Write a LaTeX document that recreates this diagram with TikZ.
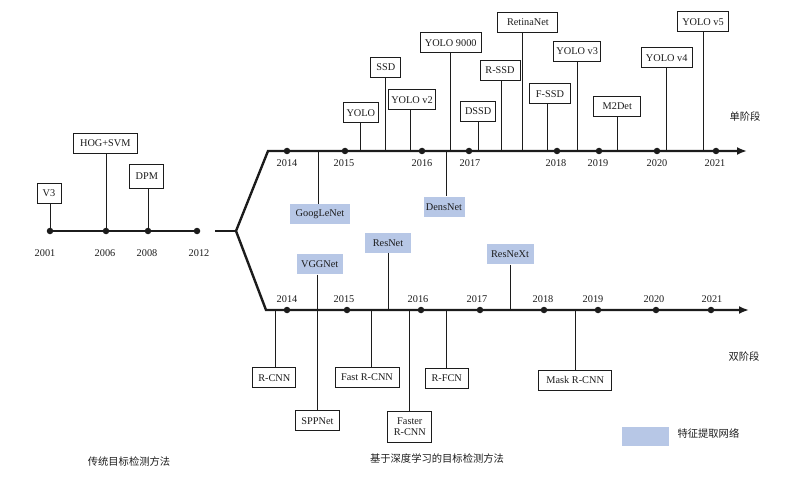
\documentclass[tikz,border=0pt]{standalone}
\usepackage{fontspec}
\setmainfont{Liberation Serif}
\newfontfamily\cjk{Noto Sans CJK SC}
\usetikzlibrary{arrows.meta,positioning,calc}
\definecolor{ink}{HTML}{1C1C1C}
\definecolor{netblue}{HTML}{B7C7E6}

\begin{document}
\begin{tikzpicture}[x=1pt, y=-1pt,
      box/.style={draw=ink, fill=white, line width=1pt, inner sep=0pt, minimum height=20pt,
                  align=center, text=ink, font=\fontsize{10.3}{10.5}\selectfont},
      net/.style={fill=netblue, inner sep=0pt, minimum height=20pt, text=ink,
                  font=\fontsize{10.3}{10.5}\selectfont},
      yr/.style={text=ink, font=\fontsize{10.3}{11}\selectfont},
      dot/.style={circle, fill=ink, inner sep=0pt, minimum size=6.5pt},
      axis/.style={ink, line width=2.4pt, line join=miter},
      stem/.style={ink, line width=1pt},
      zh/.style={text=ink, font=\cjk\fontsize{10.3}{11}\selectfont}]
    \useasboundingbox (0,0) rectangle (799,478);

    % traditional methods
    \foreach \y/\x/\lx in {2001/50/45, 2006/106/105, 2008/148/147, 2012/197/199} {
      \node[dot] (t\y) at (\x,231) {};
      \node[yr] (tl\y) at (\lx,253) {\y};
    }
    \draw[axis] (t2001) -- (t2012);
    \node[box, minimum width=24pt] (v3) at (49,193.5) {V3};
    \node[box, minimum width=64pt] (hog) at (105.3,143.2) {HOG+SVM};
    \node[box, minimum width=34pt, minimum height=24pt] (dpm) at (146.8,176.3) {DPM};
    \foreach \n/\d in {v3/2001, hog/2006, dpm/2008} \draw[stem] (\n.south -| t\d) -- (t\d);

    % fork into two timelines
    \coordinate (fork0) at (215,231);
    \coordinate (fork) at (236,231);
    \coordinate (ustart) at (268,151);
    \coordinate (uend) at (747,151);
    \coordinate (lstart) at (266,310);
    \coordinate (lend) at (749,310);
    \draw[axis] (fork0) -- (fork);
    \draw[axis, -{Latex[length=10pt, width=8pt]}] (fork) -- (ustart) -- (uend);
    \draw[axis, -{Latex[length=10pt, width=8pt]}] (fork) -- (lstart) -- (lend);

    % one-stage timeline
    \foreach \y/\x/\lx in {2014/287/287, 2015/345/344, 2016/422/422, 2017/469/470,
                           2018/557/556, 2019/599/598, 2020/657/657, 2021/716/715} {
      \node[dot] (u\y) at (\x,151) {};
      \node[yr] (ul\y) at (\lx,163) {\y};
    }
    \node[box, minimum width=35pt] (yolo) at (360.8,112.8) {YOLO};
    \node[box, minimum width=30pt] (ssd) at (385.9,67.3) {SSD};
    \node[box, minimum width=47pt] (yolov2) at (412,100) {YOLO v2};
    \node[box, minimum width=61pt] (yolo9000) at (450.7,42.8) {YOLO 9000};
    \node[box, minimum width=35pt] (dssd) at (478.2,111.3) {DSSD};
    \node[box, minimum width=40pt] (rssd) at (500,70.5) {R-SSD};
    \node[box, minimum width=60pt] (retina) at (527.9,22.3) {RetinaNet};
    \node[box, minimum width=41pt] (fssd) at (550,94) {F-SSD};
    \node[box, minimum width=47pt] (yolov3) at (577.2,51.5) {YOLO v3};
    \node[box, minimum width=47pt] (m2det) at (617.3,106.3) {M2Det};
    \node[box, minimum width=51pt] (yolov4) at (666.7,58) {YOLO v4};
    \node[box, minimum width=51pt] (yolov5) at (703,22) {YOLO v5};
    \foreach \n/\d in {yolo/0, ssd/0, yolov2/-2, yolo9000/0, dssd/0, rssd/1, retina/-5,
                       fssd/-3, yolov3/0, m2det/0, yolov4/0, yolov5/0}
      \draw[stem] ([xshift=\d]\n.south) -- ([xshift=\d]\n.south |- ustart);
    \node[net, minimum width=60pt] (googlenet) at (320,214.3) {GoogLeNet};
    \node[net, minimum width=41pt] (densnet) at (444,206.7) {DensNet};
    \foreach \n/\d in {googlenet/-2, densnet/2}
      \draw[stem] ([xshift=\d]\n.north |- ustart) -- ([xshift=\d]\n.north);
    \node[zh, anchor=west] (one) at (726,117) {单阶段};

    % two-stage timeline
    \foreach \y/\x/\lx in {2014/287/287, 2015/347/344, 2016/421/418, 2017/480/477,
                           2018/544/543, 2019/598/593, 2020/656/654, 2021/711/712} {
      \node[dot] (l\y) at (\x,310) {};
      \node[yr] (ll\y) at (\lx,299) {\y};
    }
    \node[net, minimum width=46pt] (vggnet) at (319.7,264.3) {VGGNet};
    \node[net, minimum width=46pt] (resnet) at (388,242.7) {ResNet};
    \node[net, minimum width=47pt] (resnext) at (510,254.3) {ResNeXt};
    \node[box, minimum width=43pt] (rcnn) at (274.3,377.7) {R-CNN};
    \node[box, minimum width=44pt] (sppnet) at (317.5,420.8) {SPPNet};
    \node[box, minimum width=64pt] (fastrcnn) at (367,377.3) {Fast R-CNN};
    \node[box, minimum width=44pt, minimum height=31pt] (fasterrcnn) at (409.8,426.7) {Faster\\R-CNN};
    \node[box, minimum width=43pt] (rfcn) at (446.7,378) {R-FCN};
    \node[box, minimum width=73pt] (maskrcnn) at (575.2,380.3) {Mask R-CNN};
    \draw[stem] ([xshift=-2]vggnet.south) -- ([xshift=-2]vggnet.south |- sppnet.north);
    \foreach \n in {resnet, resnext}
      \draw[stem] (\n.south) -- (\n.south |- lstart);
    \foreach \n/\d in {rcnn/1, fastrcnn/4, fasterrcnn/0, rfcn/0, maskrcnn/0}
      \draw[stem] ([xshift=\d]\n.north |- lstart) -- ([xshift=\d]\n.north);
    \node[zh, anchor=west] (two) at (725,357) {双阶段};

    % captions and legend
    \node[zh] (trad) at (129,462) {传统目标检测方法};
    \node[zh] (deep) at (437,459) {基于深度学习的目标检测方法};
    \node[net, minimum width=47pt, minimum height=19pt] (key) at (645,436) {};
    \node[zh, anchor=west] (keytext) at (674,434) {特征提取网络};
  \end{tikzpicture}
\end{document}
